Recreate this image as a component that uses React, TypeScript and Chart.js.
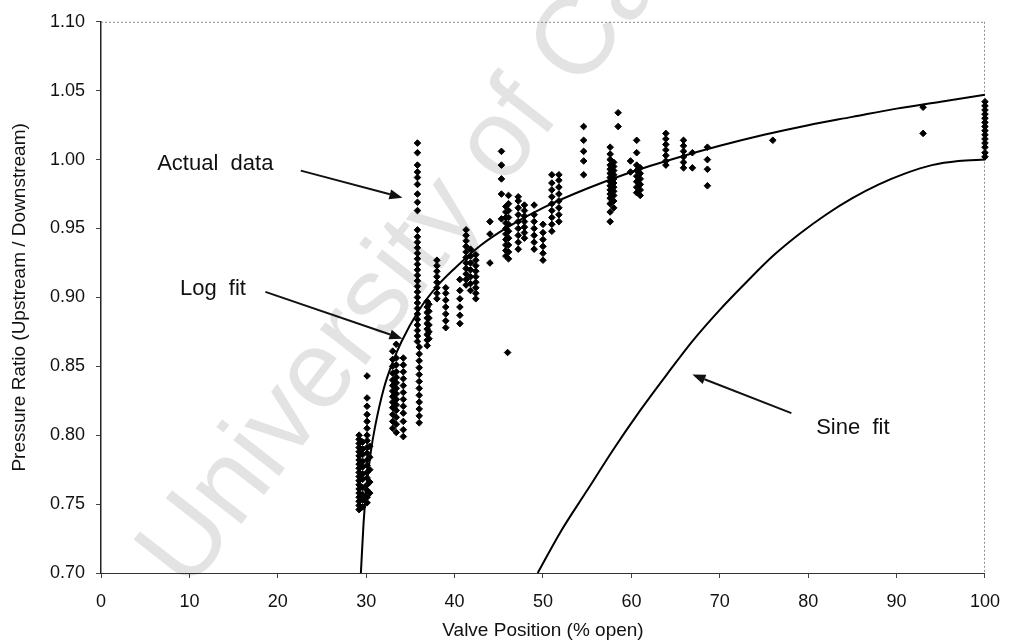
import React, { useEffect, useRef } from "react";
import { Chart, registerables } from "chart.js";

Chart.register(...registerables);

// ---- axis ticks ----
const xTickValues = [0, 10, 20, 30, 40, 50, 60, 70, 80, 90, 100];
const yTickValues = [0.7, 0.75, 0.8, 0.85, 0.9, 0.95, 1.0, 1.05, 1.1];

// ---- measured data: valve position columns and the pressure ratios read in each ----
const columnX = [
  29.2, 29.6, 30.1, 30.4, 33.0, 33.4, 34.2, 35.8, 36.0, 36.9, 37.1, 38.0, 39.0, 40.6,
  41.3, 41.8, 42.4, 44.0, 45.3, 45.8, 46.1, 46.0, 47.2, 47.9, 49.0, 50.0, 51.0, 51.8,
  54.6, 57.6, 58.0, 58.5, 59.9, 60.6, 61.0, 63.9, 65.9, 66.9, 68.6, 76.0, 93.0, 100.0,
];
const columnY = [
  [0.746, 0.749, 0.752, 0.755, 0.758, 0.761, 0.764, 0.767, 0.77, 0.773, 0.776, 0.779, 0.782, 0.785, 0.788, 0.791, 0.794, 0.797, 0.8],
  [0.748, 0.753, 0.757, 0.762, 0.768, 0.772, 0.777, 0.781, 0.786, 0.79, 0.795],
  [0.751, 0.755, 0.76, 0.764, 0.769, 0.773, 0.778, 0.782, 0.787, 0.791, 0.796, 0.8, 0.805, 0.81, 0.815, 0.821, 0.827, 0.843],
  [0.758, 0.766, 0.775, 0.784, 0.792],
  [0.805, 0.81, 0.815, 0.82, 0.824, 0.828, 0.832, 0.836, 0.84, 0.845, 0.85, 0.855, 0.861],
  [0.802, 0.808, 0.813, 0.818, 0.822, 0.826, 0.83, 0.834, 0.838, 0.842, 0.846, 0.851, 0.856, 0.866],
  [0.799, 0.804, 0.81, 0.816, 0.821, 0.826, 0.831, 0.836, 0.841, 0.846, 0.851, 0.856],
  [1.012, 1.005, 0.996, 0.991, 0.987, 0.982, 0.975, 0.969, 0.963, 0.949, 0.944, 0.94, 0.936, 0.932, 0.928, 0.924, 0.92, 0.916, 0.912, 0.908, 0.904, 0.9, 0.896, 0.892, 0.888, 0.884, 0.88, 0.876, 0.872, 0.868],
  [0.864, 0.859, 0.854, 0.849, 0.844, 0.839, 0.834, 0.829, 0.824, 0.819, 0.814, 0.809],
  [0.865, 0.869, 0.873, 0.877, 0.881, 0.885, 0.889, 0.893, 0.897],
  [0.87, 0.875, 0.88, 0.885, 0.89, 0.895],
  [0.899, 0.903, 0.907, 0.911, 0.915, 0.919, 0.923, 0.927],
  [0.878, 0.883, 0.888, 0.893, 0.898, 0.903, 0.907],
  [0.881, 0.887, 0.893, 0.899, 0.905, 0.913],
  [0.909, 0.913, 0.917, 0.921, 0.925, 0.929, 0.933, 0.937, 0.941, 0.945, 0.949],
  [0.905, 0.91, 0.915, 0.92, 0.925, 0.93, 0.935],
  [0.899, 0.903, 0.907, 0.911, 0.915, 0.919, 0.923, 0.927, 0.931],
  [0.925, 0.946, 0.955],
  [1.006, 0.996, 0.986, 0.975, 0.957],
  [0.93, 0.934, 0.938, 0.942, 0.946, 0.95, 0.954, 0.958, 0.962, 0.966],
  [0.928, 0.933, 0.938, 0.943, 0.948, 0.953, 0.958, 0.963, 0.968, 0.974],
  [0.86],
  [0.935, 0.94, 0.945, 0.95, 0.955, 0.96, 0.965, 0.97, 0.973],
  [0.943, 0.947, 0.951, 0.955, 0.959, 0.963, 0.967],
  [0.935, 0.94, 0.945, 0.95, 0.955, 0.96, 0.967],
  [0.927, 0.932, 0.937, 0.942, 0.947, 0.953],
  [0.948, 0.953, 0.958, 0.963, 0.968, 0.973, 0.978, 0.983, 0.989],
  [0.955, 0.96, 0.965, 0.97, 0.975, 0.98, 0.985, 0.989],
  [1.024, 1.014, 1.006, 0.999, 0.989],
  [0.955, 0.962, 0.968, 0.972, 0.975, 0.978, 0.981, 0.984, 0.987, 0.99, 0.993, 0.996, 1.0, 1.004, 1.009],
  [0.965, 0.97, 0.974, 0.977, 0.98, 0.983, 0.986, 0.989, 0.992, 0.995, 0.998],
  [1.034, 1.024],
  [0.999, 0.991],
  [1.014, 1.005, 0.996, 0.992, 0.988, 0.984, 0.98, 0.976],
  [0.974, 0.978, 0.982, 0.986, 0.99, 0.994],
  [1.019, 1.015, 1.011, 1.007, 1.003, 0.999, 0.996],
  [1.014, 1.01, 1.006, 1.002, 0.998, 0.994],
  [1.005, 0.994],
  [1.009, 1.0, 0.993, 0.981],
  [1.014],
  [1.038, 1.019],
  [1.042, 1.039, 1.036, 1.033, 1.03, 1.027, 1.024, 1.021, 1.018, 1.015, 1.012, 1.009, 1.005, 1.002],
];

// ---- fitted curves ----
const logFitX = [29.4, 29.7, 30.0, 30.5, 31, 32, 33, 34, 36, 38, 40, 43, 46, 50, 55, 60, 65, 70, 75, 80, 85, 90, 95, 100];
const logFitY = [0.7, 0.736, 0.76, 0.787, 0.806, 0.834, 0.853, 0.868, 0.891, 0.908, 0.921, 0.938, 0.951, 0.965, 0.979, 0.991, 1.001, 1.01, 1.018, 1.025, 1.031, 1.037, 1.042, 1.047];
const sineFitX = [49.4, 52, 55, 58, 61, 64, 67, 70, 73, 76, 79, 82, 85, 88, 91, 94, 97, 100];
const sineFitY = [0.7, 0.73, 0.76, 0.79, 0.818, 0.844, 0.869, 0.891, 0.911, 0.93, 0.946, 0.96, 0.972, 0.982, 0.99, 0.996, 0.999, 1.0];

// ---- annotations ----
const noteTexts = ["Actual  data", "Log  fit", "Sine  fit"];
const noteAlign: CanvasTextAlign[] = ["right", "right", "left"];
const noteAt = [[19.5, 0.997], [16.4, 0.906], [80.9, 0.805]];
const arrowFrom = [[22.6, 0.992], [18.6, 0.904], [78.1, 0.816]];
const arrowTo = [[34.1, 0.9724], [34.1, 0.87], [66.9, 0.844]];

const watermarkText = "University of Cape";

const FONT = '"Liberation Sans", Arial, Helvetica, sans-serif';

const decorPlugin = {
  id: "decor",
  beforeDatasetsDraw(chart: any) {
    const { ctx, chartArea } = chart;
    // watermark
    ctx.save();
    ctx.translate(164, 574);
    ctx.rotate((-52 * Math.PI) / 180);
    ctx.font = `110px ${FONT}`;
    ctx.fillStyle = "rgba(0,0,0,0.11)";
    ctx.textBaseline = "middle";
    ctx.textAlign = "left";
    ctx.fillText(watermarkText, 0, 0);
    ctx.restore();
    // dotted frame top and right
    ctx.save();
    ctx.strokeStyle = "#888";
    ctx.lineWidth = 1;
    ctx.setLineDash([2, 2]);
    ctx.beginPath();
    ctx.moveTo(chartArea.left, chartArea.top + 0.5);
    ctx.lineTo(chartArea.right, chartArea.top + 0.5);
    ctx.moveTo(chartArea.right - 0.5, chartArea.top);
    ctx.lineTo(chartArea.right - 0.5, chartArea.bottom);
    ctx.stroke();
    ctx.restore();
  },
  afterDatasetsDraw(chart: any) {
    const { ctx } = chart;
    const xs = chart.scales.x;
    const ys = chart.scales.y;
    ctx.save();
    ctx.fillStyle = "#111";
    ctx.strokeStyle = "#111";
    ctx.font = `22px ${FONT}`;
    ctx.textBaseline = "middle";
    noteTexts.forEach((t, i) => {
      ctx.textAlign = noteAlign[i];
      ctx.fillText(t, xs.getPixelForValue(noteAt[i][0]), ys.getPixelForValue(noteAt[i][1]));
      const x1 = xs.getPixelForValue(arrowFrom[i][0]);
      const y1 = ys.getPixelForValue(arrowFrom[i][1]);
      const x2 = xs.getPixelForValue(arrowTo[i][0]);
      const y2 = ys.getPixelForValue(arrowTo[i][1]);
      const ang = Math.atan2(y2 - y1, x2 - x1);
      const headLen = 13;
      const headW = 5;
      const bx = x2 - headLen * Math.cos(ang);
      const by = y2 - headLen * Math.sin(ang);
      ctx.lineWidth = 2;
      ctx.beginPath();
      ctx.moveTo(x1, y1);
      ctx.lineTo(bx, by);
      ctx.stroke();
      ctx.beginPath();
      ctx.moveTo(x2, y2);
      ctx.lineTo(bx + headW * Math.sin(ang), by - headW * Math.cos(ang));
      ctx.lineTo(bx - headW * Math.sin(ang), by + headW * Math.cos(ang));
      ctx.closePath();
      ctx.fill();
    });
    ctx.restore();
  },
};

export default function App() {
  const canvasRef = useRef<HTMLCanvasElement | null>(null);

  useEffect(() => {
    if (!canvasRef.current) return;
    const points: { x: number; y: number }[] = [];
    columnX.forEach((x, i) => columnY[i].forEach((y) => points.push({ x, y })));
    const logPts = logFitX.map((x, i) => ({ x, y: logFitY[i] }));
    const sinePts = sineFitX.map((x, i) => ({ x, y: sineFitY[i] }));

    const chart = new Chart(canvasRef.current, {
      type: "scatter",
      data: {
        datasets: [
          {
            label: "Actual data",
            data: points,
            pointStyle: "rectRot",
            pointRadius: 3.3,
            pointBorderWidth: 1,
            backgroundColor: "#000",
            borderColor: "#000",
            showLine: false,
            clip: false,
            order: 1,
          } as any,
          {
            label: "Log fit",
            type: "line",
            data: logPts,
            borderColor: "#000",
            borderWidth: 2,
            pointRadius: 0,
            cubicInterpolationMode: "monotone",
            fill: false,
            order: 2,
          } as any,
          {
            label: "Sine fit",
            type: "line",
            data: sinePts,
            borderColor: "#000",
            borderWidth: 2,
            pointRadius: 0,
            cubicInterpolationMode: "monotone",
            fill: false,
            order: 2,
          } as any,
        ],
      },
      options: {
        responsive: false,
        animation: false,
        layout: { padding: { top: 18, right: 20, left: 0, bottom: 0 } },
        plugins: {
          legend: { display: false },
          tooltip: { enabled: false },
        },
        scales: {
          x: {
            type: "linear",
            min: 0,
            max: 100,
            afterBuildTicks: (s: any) => {
              s.ticks = xTickValues.map((v) => ({ value: v }));
            },
            afterFit: (s: any) => {
              s.height = 69;
            },
            ticks: {
              color: "#111",
              font: { family: FONT, size: 18 },
              padding: 13,
              maxRotation: 0,
              callback: (v: any) => String(v),
            },
            grid: { drawOnChartArea: false, drawTicks: true, tickLength: 5, color: "#444" },
            border: { color: "#333", width: 1, dash: [3, 1] },
            title: {
              display: true,
              text: "Valve Position (% open)",
              color: "#111",
              font: { family: FONT, size: 19 },
              padding: { top: 0, bottom: 0 },
            },
          },
          y: {
            type: "linear",
            min: 0.7,
            max: 1.1,
            afterBuildTicks: (s: any) => {
              s.ticks = yTickValues.map((v) => ({ value: v }));
            },
            afterFit: (s: any) => {
              s.width = 101;
            },
            ticks: {
              color: "#111",
              font: { family: FONT, size: 18 },
              padding: 11,
              callback: (v: any) => Number(v).toFixed(2),
            },
            grid: { drawOnChartArea: false, drawTicks: true, tickLength: 5, color: "#444" },
            border: { color: "#222", width: 1.5 },
            title: {
              display: true,
              text: "Pressure Ratio (Upstream / Downstream)",
              color: "#111",
              font: { family: FONT, size: 19 },
              padding: { top: 8, bottom: 0 },
            },
          },
        },
      },
      plugins: [decorPlugin],
    });
    return () => chart.destroy();
  }, []);

  return (
    <div style={{ position: "absolute", left: 0, top: 0, width: 1013, height: 642, background: "#fff" }}>
      <canvas ref={canvasRef} width={1013} height={642} style={{ display: "block" }} />
    </div>
  );
}
